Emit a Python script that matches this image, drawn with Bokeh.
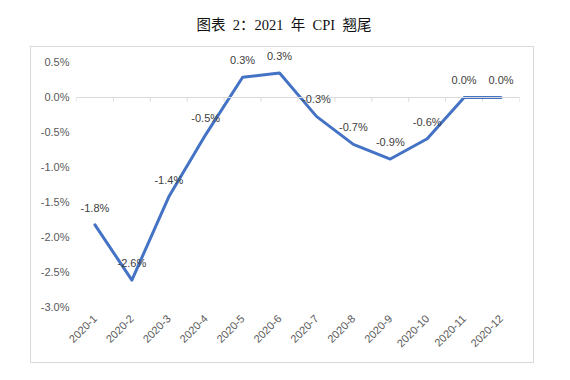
import numpy as np
from bokeh.plotting import figure
from bokeh.models import (ColumnDataSource, FactorRange, Range1d, FixedTicker,
                          PrintfTickFormatter, LabelSet, Span, Div)
from bokeh.core.properties import value
from bokeh.layouts import column
from bokeh.embed import file_html
from bokeh.resources import INLINE

# ---- data ----
months = ["2020-1", "2020-2", "2020-3", "2020-4", "2020-5", "2020-6",
          "2020-7", "2020-8", "2020-9", "2020-10", "2020-11", "2020-12"]
cpi_tail = [-1.82, -2.61, -1.42, -0.53, 0.29, 0.35,
            -0.27, -0.67, -0.88, -0.59, 0.0, 0.0]
cpi_labels = ["-1.8%", "-2.6%", "-1.4%", "-0.5%", "0.3%", "0.3%",
              "-0.3%", "-0.7%", "-0.9%", "-0.6%", "0.0%", "0.0%"]
y_ticks = [-3.0, -2.5, -2.0, -1.5, -1.0, -0.5, 0.0, 0.5]
title_text = "图表 2：2021 年 CPI 翘尾"

src = ColumnDataSource(dict(m=months, v=cpi_tail, lab=cpi_labels))

GRAY = "#595959"
FONT = "Liberation Sans"

p = figure(x_range=FactorRange(*months), y_range=Range1d(-3.03, 0.7),
           width=504, height=317, output_backend="svg", toolbar_location=None,
           min_border_left=45, min_border_right=16, min_border_top=1,
           min_border_bottom=55, outline_line_color=None,
           margin=(0, 0, 0, 30),
           styles={"border": "1px solid #d9d9d9"})
p.xgrid.grid_line_color = None
p.ygrid.grid_line_color = None

# y axis
p.yaxis.ticker = FixedTicker(ticks=y_ticks)
p.yaxis.formatter = PrintfTickFormatter(format="%.1f%%")
p.yaxis.axis_line_color = None
p.yaxis.major_tick_line_color = None
p.yaxis.minor_tick_line_color = None
p.yaxis.major_label_text_font = FONT
p.yaxis.major_label_text_font_size = "11px"
p.yaxis.major_label_text_color = GRAY
p.yaxis.major_label_standoff = 1

# x axis (labels at the bottom)
p.xaxis.axis_line_color = None
p.xaxis.major_tick_line_color = None
p.xaxis.minor_tick_line_color = None
p.xaxis.major_label_orientation = np.pi / 4
p.xaxis.major_label_text_font = FONT
p.xaxis.major_label_text_font_size = "11px"
p.xaxis.major_label_text_color = GRAY
p.xaxis.major_label_standoff = 1

# zero line with boundary ticks
p.add_layout(Span(location=0, dimension="width", line_color="#d9d9d9", line_width=1))
bounds = np.arange(len(months) + 1)
p.segment(x0=bounds, y0=0, x1=bounds, y1=-0.06, line_color="#d9d9d9", line_width=1)

# line
p.line("m", "v", source=src, line_color="#4472C4", line_width=3, line_join="round",
       line_cap="round")

labels = LabelSet(x="m", y="v", text="lab", source=src, y_offset=17,
                  text_align="center", text_baseline="middle",
                  text_font=value(FONT), text_font_size=value("11px"),
                  text_color="#404040")
p.add_layout(labels)

title = Div(text=('<div style="width:554px;text-align:center;position:relative;left:7px;'
                  'font-family:\'Liberation Serif\',\'Noto Sans CJK SC\';'
                  'font-size:14.5px;font-weight:normal;word-spacing:0.25em;'
                  'line-height:20px;padding-top:15px;color:#111;">'
                  + title_text + '</div>'),
            width=554, height=46, margin=(0, 0, 0, 0))

layout = column(title, p, margin=(0, 0, 0, 0), spacing=0)
open("out.html", "w").write(file_html(layout, INLINE))
